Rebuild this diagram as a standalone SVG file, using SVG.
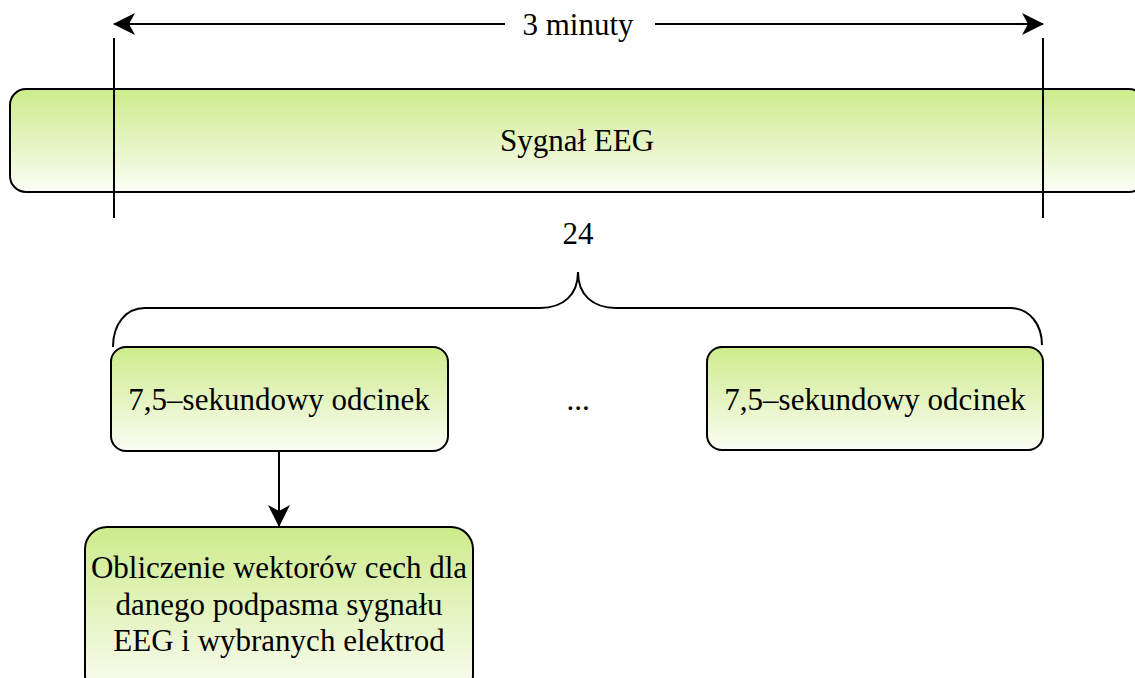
<svg xmlns="http://www.w3.org/2000/svg" width="1135" height="678" viewBox="0 0 1135 678">
<style>
.box{stroke:#000;stroke-width:2;fill:url(#g)}
.ln{stroke:#000;stroke-width:2;fill:none}
text{font-family:"Liberation Serif","Times New Roman",serif;font-size:31px;fill:#000;text-anchor:middle}
</style>
<defs>
<linearGradient id="g" x1="0" y1="0" x2="0" y2="1">
<stop offset="0" stop-color="#cdeb8b"/>
<stop offset="1" stop-color="#fbfdf5"/>
</linearGradient>
<marker id="ah" viewBox="0 0 22 22" refX="21" refY="11" markerWidth="22" markerHeight="22" markerUnits="userSpaceOnUse" orient="auto-start-reverse">
<path d="M0,0 L22,11 L0,22 L6,11 Z" fill="#000"/>
</marker>
</defs>
<g id="signal">
<rect class="box" x="10" y="89" width="1135" height="103" rx="16"/>
<text x="577" y="151">Sygnał EEG</text>
</g>
<g id="seg1">
<rect class="box" x="111" y="347" width="337" height="104" rx="15"/>
<text x="279" y="410">7,5–sekundowy odcinek</text>
</g>
<g id="dots">
<text x="578" y="410">...</text>
</g>
<g id="seg2">
<rect class="box" x="707" y="347" width="336" height="103" rx="15"/>
<text x="875" y="410">7,5–sekundowy odcinek</text>
</g>
<g id="compute">
<rect class="box" x="85" y="527" width="388" height="170" rx="22"/>
<text x="279" y="578">Obliczenie wektorów cech dla</text>
<text x="279" y="615">danego podpasma sygnału</text>
<text x="279" y="651">EEG i wybranych elektrod</text>
</g>
<g id="labels">
<text x="578" y="35">3 minuty</text>
<text x="578" y="244">24</text>
</g>
<g id="connectors">
<line class="ln" x1="114" y1="38" x2="114" y2="218"/>
<line class="ln" x1="1043" y1="38" x2="1043" y2="218"/>
<line class="ln" x1="505" y1="24" x2="114" y2="24" marker-end="url(#ah)"/>
<line class="ln" x1="655" y1="24" x2="1043" y2="24" marker-end="url(#ah)"/>
<path class="ln" d="M113,347 C113,325 125,308 145,308 L540,308 C563,308 578,295 578,272 C578,295 593,308 616,308 L1010,308 C1030,308 1042,325 1042,345"/>
<line class="ln" x1="279" y1="451" x2="279" y2="526" marker-end="url(#ah)"/>
</g>
</svg>
